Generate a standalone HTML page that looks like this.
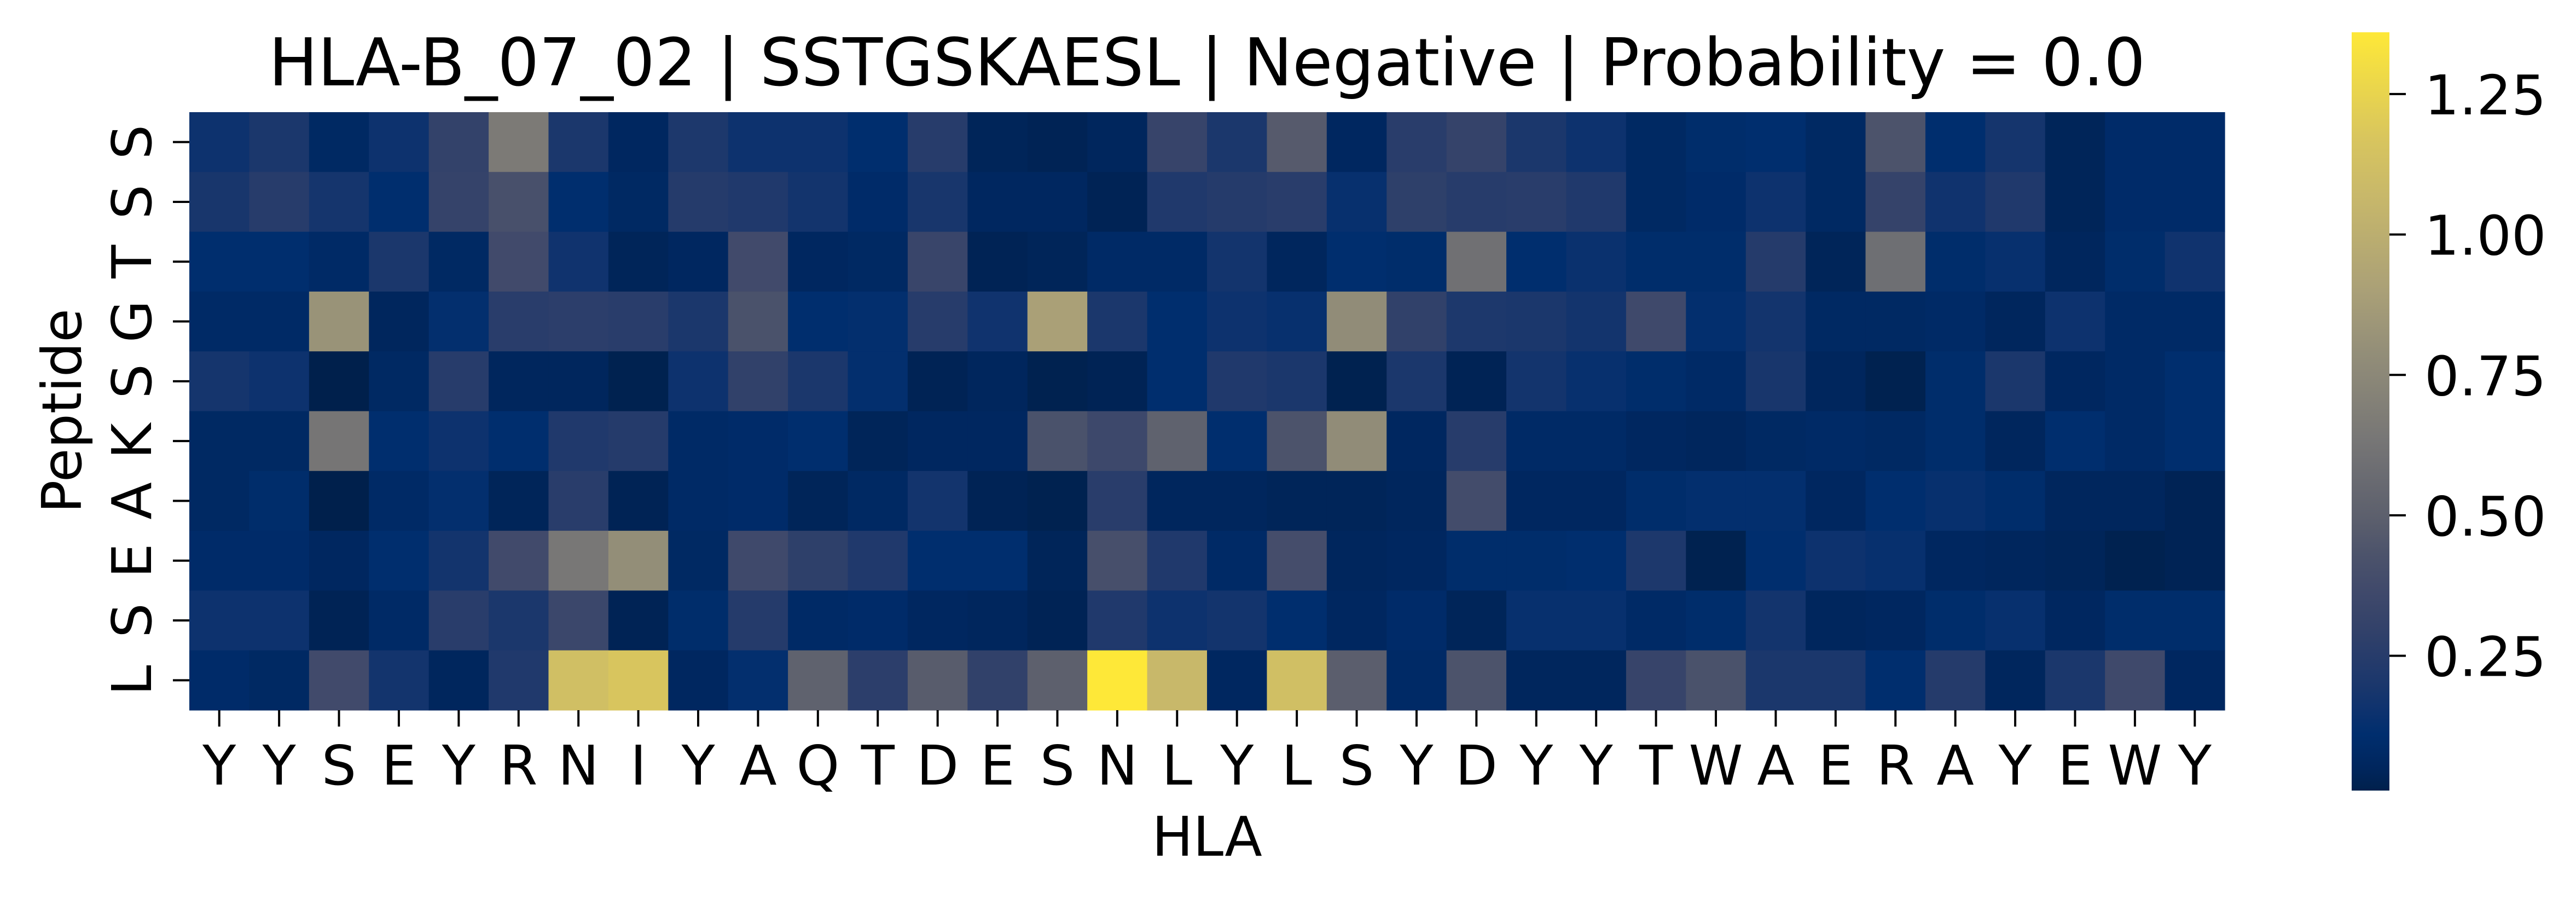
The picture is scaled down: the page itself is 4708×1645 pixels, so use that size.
<!DOCTYPE html>
<html><head><meta charset="utf-8"><style>html,body{margin:0;padding:0;background:#fff}svg{display:block}</style></head>
<body>
<svg id="chart" xmlns="http://www.w3.org/2000/svg" width="4708" height="1645" viewBox="0 0 4708 1645" font-family="DejaVu Sans, Liberation Sans, sans-serif">
<rect width="4708" height="1645" fill="#fff"/>
<text x="2206" y="156" font-size="120" text-anchor="middle" textLength="3430" lengthAdjust="spacingAndGlyphs">HLA-B_07_02 | SSTGSKAESL | Negative | Probability = 0.0</text>
<g id="cells"></g>
<g id="xt"></g>
<g id="yt"></g>
<text x="2206" y="1564" font-size="100" text-anchor="middle">HLA</text>
<text x="148" y="751" font-size="100" text-anchor="middle" transform="rotate(-90 148 751)">Peptide</text>
<defs><linearGradient id="cg" x1="0" y1="1" x2="0" y2="0"></linearGradient></defs>
<rect x="4298" y="59" width="69" height="1386" fill="url(#cg)"/>
<g id="ct"></g>
</svg>
<script>
const hlaLabels = ["Y","Y","S","E","Y","R","N","I","Y","A","Q","T","D","E","S","N","L","Y","L","S","Y","D","Y","Y","T","W","A","E","R","A","Y","E","W","Y"];
const peptideLabels = ["S","S","T","G","S","K","A","E","S","L"];
const row0 = [0.15,0.2,0.07,0.15,0.3,0.66,0.2,0.06,0.21,0.15,0.15,0.11,0.25,0.04,0.03,0.05,0.32,0.2,0.47,0.06,0.26,0.31,0.2,0.15,0.07,0.1,0.11,0.07,0.43,0.11,0.18,0.04,0.09,0.09];
const row1 = [0.19,0.25,0.18,0.11,0.31,0.41,0.11,0.07,0.24,0.22,0.17,0.09,0.19,0.06,0.06,0.03,0.22,0.24,0.26,0.13,0.28,0.25,0.26,0.22,0.07,0.09,0.15,0.07,0.31,0.16,0.22,0.04,0.09,0.09];
const row2 = [0.11,0.11,0.08,0.2,0.07,0.37,0.16,0.04,0.06,0.37,0.06,0.07,0.33,0.03,0.04,0.08,0.08,0.17,0.05,0.11,0.1,0.6,0.11,0.14,0.1,0.1,0.24,0.04,0.59,0.1,0.13,0.05,0.1,0.16];
const row3 = [0.08,0.08,0.82,0.05,0.12,0.26,0.27,0.26,0.2,0.42,0.11,0.12,0.25,0.16,0.9,0.2,0.11,0.15,0.13,0.78,0.29,0.21,0.2,0.17,0.36,0.12,0.17,0.07,0.07,0.08,0.05,0.15,0.08,0.08];
const row4 = [0.18,0.15,0.01,0.07,0.25,0.05,0.05,0.02,0.15,0.29,0.2,0.12,0.03,0.05,0.02,0.03,0.11,0.22,0.2,0.02,0.2,0.03,0.17,0.13,0.1,0.08,0.19,0.05,0.02,0.1,0.2,0.06,0.08,0.11];
const row5 = [0.07,0.07,0.63,0.11,0.15,0.11,0.22,0.24,0.08,0.09,0.11,0.04,0.06,0.06,0.42,0.35,0.51,0.11,0.43,0.78,0.06,0.25,0.08,0.08,0.06,0.05,0.07,0.08,0.07,0.1,0.05,0.11,0.08,0.11];
const row6 = [0.07,0.1,0.01,0.08,0.12,0.04,0.26,0.03,0.08,0.09,0.04,0.07,0.17,0.03,0.02,0.26,0.05,0.05,0.04,0.04,0.05,0.38,0.06,0.06,0.1,0.12,0.12,0.06,0.11,0.13,0.1,0.05,0.05,0.03];
const row7 = [0.09,0.09,0.06,0.11,0.17,0.37,0.64,0.79,0.07,0.36,0.28,0.22,0.11,0.11,0.04,0.4,0.22,0.08,0.39,0.05,0.06,0.1,0.1,0.11,0.21,0.02,0.11,0.15,0.13,0.06,0.05,0.04,0.02,0.03];
const row8 = [0.15,0.15,0.03,0.08,0.26,0.2,0.34,0.03,0.1,0.24,0.08,0.09,0.06,0.05,0.03,0.22,0.15,0.17,0.11,0.06,0.09,0.04,0.13,0.13,0.08,0.1,0.17,0.05,0.06,0.1,0.13,0.06,0.1,0.1];
const row9 = [0.09,0.07,0.37,0.17,0.05,0.22,1.12,1.17,0.06,0.12,0.51,0.27,0.48,0.29,0.5,1.36,1.07,0.06,1.12,0.49,0.08,0.43,0.05,0.05,0.32,0.42,0.2,0.2,0.11,0.24,0.05,0.2,0.36,0.06];
const rows = [row0,row1,row2,row3,row4,row5,row6,row7,row8,row9];
const cbTicks = [0.25,0.5,0.75,1.0,1.25];
const cbTickLabels = ["0.25","0.50","0.75","1.00","1.25"];
const vmin = 0.01, vmax = 1.36;

const NS = "http://www.w3.org/2000/svg";
const X0 = 346, X1 = 4066, Y0 = 205, Y1 = 1298;
const cw = (X1 - X0) / hlaLabels.length, ch = (Y1 - Y0) / peptideLabels.length;
const xPos = i => X0 + i * cw;
const yPos = j => Y0 + j * ch;
const CB0 = 59, CB1 = 1445;
const cbY = v => CB1 - (v - vmin) / (vmax - vmin) * (CB1 - CB0);

const stops = [[0.01,"#00204c"],[0.05,"#00265d"],[0.08,"#002a66"],[0.11,"#002e6e"],[0.15,"#0d326e"],[0.2,"#1b376c"],[0.25,"#273c6b"],[0.3,"#33426a"],[0.37,"#414a6b"],[0.43,"#4c536b"],[0.5,"#5d606d"],[0.64,"#787776"],[0.79,"#938e78"],[0.9,"#aaa077"],[1.07,"#c8b86a"],[1.17,"#d8c55e"],[1.36,"#fee838"]];
function hex(c){return [parseInt(c.slice(1,3),16),parseInt(c.slice(3,5),16),parseInt(c.slice(5,7),16)];}
function color(v){
  if (v <= stops[0][0]) return stops[0][1];
  for (let k = 1; k < stops.length; k++) {
    if (v <= stops[k][0]) {
      const a = hex(stops[k-1][1]), b = hex(stops[k][1]);
      const f = (v - stops[k-1][0]) / (stops[k][0] - stops[k-1][0]);
      return "rgb(" + a.map((x,i)=>Math.round(x + (b[i]-x)*f)).join(",") + ")";
    }
  }
  return stops[stops.length-1][1];
}

const cells = document.getElementById("cells");
rows.forEach((r, j) => r.forEach((v, i) => {
  const el = document.createElementNS(NS, "rect");
  
  
  el.setAttribute("x", xPos(i)); el.setAttribute("y", yPos(j));
  el.setAttribute("width", cw + 0.6); el.setAttribute("height", ch + 0.6);
  el.setAttribute("fill", color(v));
  cells.appendChild(el);
}));

const xt = document.getElementById("xt");
hlaLabels.forEach((lab, i) => {
  const cx = xPos(i) + cw / 2;
  const t = document.createElementNS(NS, "line");
  
  
  t.setAttribute("x1", cx); t.setAttribute("x2", cx); t.setAttribute("y1", Y1); t.setAttribute("y2", Y1 + 30);
  t.setAttribute("stroke", "#000"); t.setAttribute("stroke-width", 4);
  xt.appendChild(t);
  const tx = document.createElementNS(NS, "text");
  
  
  tx.setAttribute("x", cx); tx.setAttribute("y", 1434);
  tx.setAttribute("font-size", 100); tx.setAttribute("text-anchor", "middle");
  tx.textContent = lab;
  xt.appendChild(tx);
});

const yt = document.getElementById("yt");
peptideLabels.forEach((lab, j) => {
  const cy = yPos(j) + ch / 2;
  const t = document.createElementNS(NS, "line");
  
  
  t.setAttribute("x1", X0 - 30); t.setAttribute("x2", X0); t.setAttribute("y1", cy); t.setAttribute("y2", cy);
  t.setAttribute("stroke", "#000"); t.setAttribute("stroke-width", 4);
  yt.appendChild(t);
  const tx = document.createElementNS(NS, "text");
  
  
  tx.setAttribute("x", 276); tx.setAttribute("y", cy);
  tx.setAttribute("font-size", 100); tx.setAttribute("text-anchor", "middle");
  tx.setAttribute("transform", "rotate(-90 276 " + cy + ")");
  tx.textContent = lab;
  yt.appendChild(tx);
});

const grad = document.getElementById("cg");
stops.forEach(s => {
  const st = document.createElementNS(NS, "stop");
  st.setAttribute("offset", ((s[0] - vmin) / (vmax - vmin)).toFixed(4));
  st.setAttribute("stop-color", s[1]);
  grad.appendChild(st);
});

const ct = document.getElementById("ct");
cbTicks.forEach((v, k) => {
  const y = cbY(v);
  const t = document.createElementNS(NS, "line");
  
  
  t.setAttribute("x1", 4367); t.setAttribute("x2", 4397); t.setAttribute("y1", y); t.setAttribute("y2", y);
  t.setAttribute("stroke", "#000"); t.setAttribute("stroke-width", 4);
  ct.appendChild(t);
  const tx = document.createElementNS(NS, "text");
  
  
  tx.setAttribute("x", 4431); tx.setAttribute("y", y + 37);
  tx.setAttribute("font-size", 100);
  tx.textContent = cbTickLabels[k];
  ct.appendChild(tx);
});
</script>
</body></html>
